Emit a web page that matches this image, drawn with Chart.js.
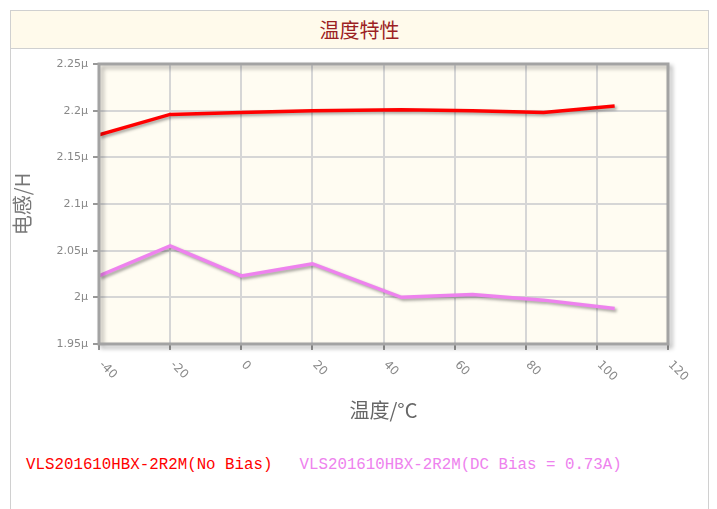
<!DOCTYPE html>
<html>
<head>
<meta charset="utf-8">
<script src="https://cdn.jsdelivr.net/npm/chart.js@4/dist/chart.umd.min.js"></script>
<style>
body { margin:0; background:#fff; width:717px; height:509px; overflow:hidden; font-family:"Noto Sans CJK SC", sans-serif; }
#panel { position:absolute; left:10px; top:10px; width:697px; height:520px; border:1px solid #d0d0d0; }
#titleBar { position:absolute; left:10px; top:10px; width:697px; height:37px; background:#fffaeb; border:1px solid #d0d0d0;
  color:#9c1f24; font-size:20px; text-align:center; line-height:37px; }
#chartBox { position:absolute; left:0; top:50px; }
#legend { position:absolute; left:26px; top:456px; font-family:"Liberation Mono", monospace; font-size:15.8px; white-space:pre; }
#legend span { margin-right:27px; }
</style>
</head>
<body>
<div id="panel"></div>
<div id="titleBar">温度特性</div>
<div id="chartBox"><canvas id="lineChart" width="717" height="390"></canvas></div>
<div id="legend"></div>

<script>
// temperature (°C)
var temps = [-40, -20, 0, 20, 45, 65, 85, 105]
// inductance (µH)
var noBias = [2.174, 2.196, 2.198, 2.200, 2.201, 2.200, 2.198, 2.205]
var dcBias = [2.023, 2.055, 2.023, 2.036, 2.000, 2.003, 1.997, 1.988]
var seriesNames = ['VLS201610HBX-2R2M(No Bias)', 'VLS201610HBX-2R2M(DC Bias = 0.73A)']
var seriesColors = ['#ff0000', '#ee82ee']
var xTicks = [-40, -20, 0, 20, 40, 60, 80, 100, 120]

function pairs(vals) {
    return temps.map(function (t, i) { return {x: t, y: vals[i]} })
}

// plot background + border with shadow, rotated x labels
var plotDeco = {
    id: 'plotDeco',
    beforeDraw: function (chart) {
        var a = chart.chartArea, c = chart.ctx
        c.save()
        c.fillStyle = '#fffcf2'
        c.fillRect(a.left, a.top, a.right - a.left, a.bottom - a.top)
        c.restore()
    },
    beforeDatasetDraw: function (chart) {
        var c = chart.ctx
        c.save()
        c.shadowColor = 'rgba(0,0,0,0.35)'
        c.shadowOffsetX = 2
        c.shadowOffsetY = 2
        c.shadowBlur = 3
    },
    afterDatasetDraw: function (chart) {
        chart.ctx.restore()
    },
    afterDraw: function (chart) {
        var a = chart.chartArea, c = chart.ctx
        c.save()
        c.shadowColor = 'rgba(0,0,0,0.3)'
        c.shadowOffsetX = 3
        c.shadowOffsetY = 3
        c.shadowBlur = 4
        c.strokeStyle = '#a3a3a3'
        c.lineWidth = 3
        c.strokeRect(a.left, a.top, a.right - a.left, a.bottom - a.top)
        c.restore()

        var xs = chart.scales.x
        c.save()
        c.fillStyle = '#888'
        c.font = '12px "DejaVu Sans"'
        c.textAlign = 'left'
        c.textBaseline = 'middle'
        xTicks.forEach(function (v) {
            var px = xs.getPixelForValue(v)
            c.save()
            c.translate(px + 2, a.bottom + 19)
            c.rotate(Math.PI / 4)
            c.fillText(String(v), 0, 0)
            c.restore()
        })
        c.restore()
    }
}

var ctx = document.getElementById('lineChart').getContext('2d')

var chart = new Chart(ctx, {
    type: 'line',
    data: {
        datasets: [{
            label: seriesNames[0],
            data: pairs(noBias),
            borderColor: seriesColors[0],
            borderWidth: 3.5,
            pointRadius: 0,
            tension: 0
        }, {
            label: seriesNames[1],
            data: pairs(dcBias),
            borderColor: seriesColors[1],
            borderWidth: 3.5,
            pointRadius: 0,
            tension: 0
        }]
    },
    options: {
        responsive: false,
        animation: false,
        layout: { padding: { left: 10, right: 49, top: 14, bottom: 0 } },
        plugins: {
            legend: { display: false },
            tooltip: { enabled: false }
        },
        scales: {
            x: {
                type: 'linear',
                min: -40,
                max: 120,
                afterBuildTicks: function (s) { s.ticks = xTicks.map(function (v) { return {value: v} }) },
                afterFit: function (s) { s.height = 96 },
                ticks: { display: false },
                grid: { color: '#d6d6d6', lineWidth: 2, tickLength: 6, tickColor: '#999' },
                border: { display: false },
                title: {
                    display: true,
                    text: '温度/°C',
                    color: '#666',
                    font: { family: '"Noto Sans CJK SC"', size: 20 },
                    padding: { top: 0, bottom: 18 }
                }
            },
            y: {
                min: 1.95,
                max: 2.25,
                afterFit: function (s) { s.width = 89 },
                ticks: {
                    stepSize: 0.05,
                    color: '#888',
                    padding: 5,
                    font: { family: '"DejaVu Sans"', size: 11 },
                    callback: function (v) { return parseFloat(v.toFixed(2)) + 'µ' }
                },
                grid: { color: '#d6d6d6', lineWidth: 2, tickLength: 6, tickColor: '#999' },
                border: { display: false },
                title: {
                    display: true,
                    text: '电感/H',
                    color: '#777',
                    font: { family: '"Noto Sans CJK SC"', size: 20 },
                    padding: { top: 0, bottom: 0 }
                }
            }
        }
    },
    plugins: [plotDeco]
})

var legend = document.getElementById('legend')
seriesNames.forEach(function (n, i) {
    var s = document.createElement('span')
    s.textContent = n
    s.style.color = seriesColors[i]
    legend.appendChild(s)
})
</script>
</body>
</html>
